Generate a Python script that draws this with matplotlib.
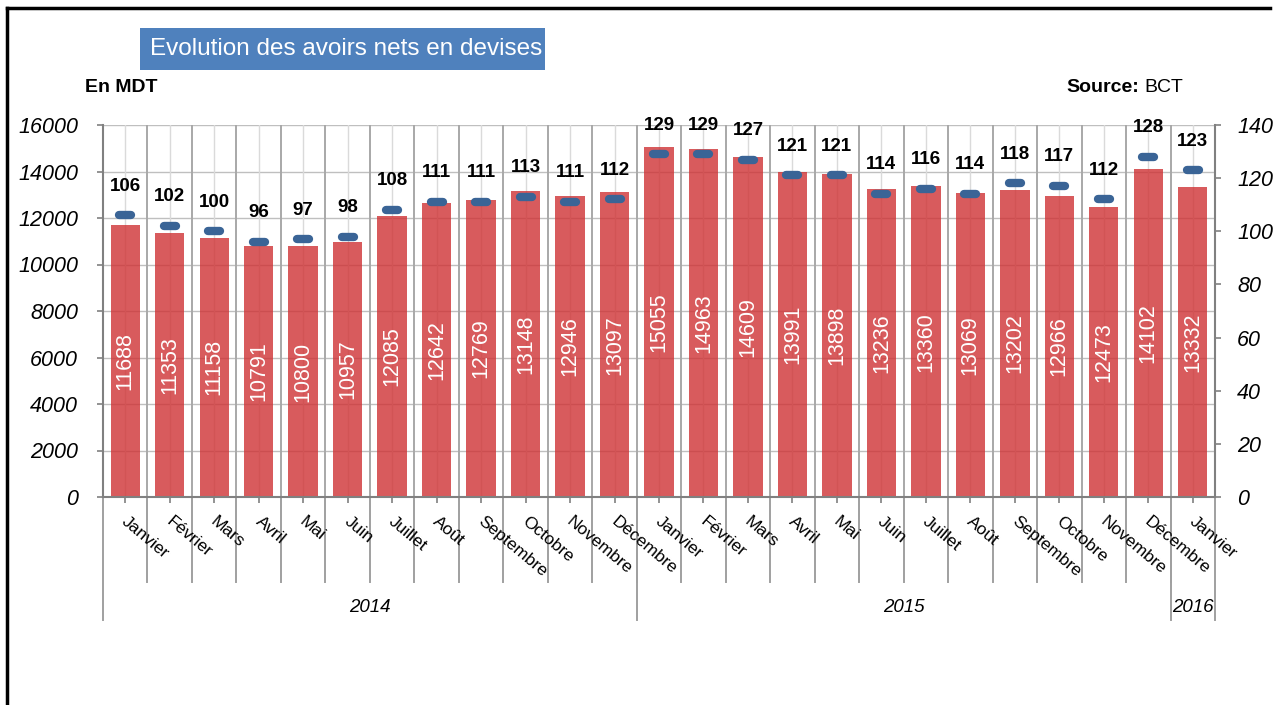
import matplotlib
matplotlib.use("Agg")
import matplotlib.pyplot as plt
from matplotlib.lines import Line2D
from matplotlib.patches import Rectangle
from matplotlib.markers import MarkerStyle

plt.rcParams['font.family'] = ['Liberation Sans', 'DejaVu Sans']

months = ["Janvier", "Février", "Mars", "Avril", "Mai", "Juin", "Juillet", "Août",
          "Septembre", "Octobre", "Novembre", "Décembre",
          "Janvier", "Février", "Mars", "Avril", "Mai", "Juin", "Juillet", "Août",
          "Septembre", "Octobre", "Novembre", "Décembre",
          "Janvier"]
years = ["2014", "2015", "2016"]
year_counts = [12, 12, 1]
avoirs_mdt = [11688, 11353, 11158, 10791, 10800, 10957, 12085, 12642, 12769, 13148, 12946, 13097,
              15055, 14963, 14609, 13991, 13898, 13236, 13360, 13069, 13202, 12966, 12473, 14102,
              13332]
jours_import = [106, 102, 100, 96, 97, 98, 108, 111, 111, 113, 111, 112,
                129, 129, 127, 121, 121, 114, 116, 114, 118, 117, 112, 128,
                123]

W, H = 1274, 705
fig = plt.figure(figsize=(W / 100, H / 100), dpi=100)
ax = fig.add_axes([103 / W, 1 - 497 / H, 1112 / W, 372 / H])
x = list(range(len(months)))

# grid
for k in range(0, 16001, 2000):
    ax.axhline(k, color="#BFBFBF", lw=1, zorder=1)
for i in x:
    ax.axvline(i, color="#DADADA", lw=1, zorder=1)
    ax.axvline(i - 0.5, color="#A8A8A8", lw=1.4, zorder=1)

ax.bar(x, avoirs_mdt, width=0.66, color="#CF3234", alpha=0.8, zorder=2)
for i, v in zip(x, avoirs_mdt):
    ax.text(i, v / 2, str(v), rotation=90, ha="center", va="center",
            color="white", fontsize=15.5, zorder=4)

ax.set_xlim(-0.5, len(months) - 0.5)
ax.set_ylim(0, 16000)
ax.set_yticks(range(0, 16001, 2000))
ax.set_yticklabels([str(t) for t in range(0, 16001, 2000)], fontsize=15.5, style="italic")
ax.set_xticks(x)
ax.set_xticklabels([])
ax.tick_params(axis="both", direction="out", length=4, width=1.2, colors="#808080",
               labelcolor="black")
ax.tick_params(axis="y", pad=14)
for s in ["left", "bottom", "right"]:
    ax.spines[s].set_color("#808080")
    ax.spines[s].set_linewidth(1.5)
ax.spines["top"].set_visible(False)

# month labels
for i, m in zip(x, months):
    ax.text(i + 0.08, -0.045, m, transform=ax.get_xaxis_transform(), rotation=-40,
            rotation_mode="anchor", ha="left", va="top", fontsize=12.5)

# separators under the axis
tr = ax.get_xaxis_transform()
for i in range(1, len(months)):
    ax.plot([i - 0.5, i - 0.5], [0, -0.2285], transform=tr, color="#A0A0A0",
            lw=1.4, clip_on=False)
start = 0
bounds = [-0.5]
for y_lab, n in zip(years, year_counts):
    bounds.append(start + n - 0.5)
    ax.text(start - 0.5 + n / 2, -0.296, y_lab, transform=tr, ha="center", va="center",
            fontsize=13.5, style="italic")
    start += n
for b in bounds:
    ax.plot([b, b], [0, -0.3306], transform=tr, color="#A0A0A0", lw=1.4, clip_on=False)

# right axis
ax2 = ax.twinx()
ax2.set_ylim(0, 140)
ax2.set_yticks(range(0, 141, 20))
ax2.set_yticklabels([str(t) for t in range(0, 141, 20)], fontsize=15.5, style="italic")
ax2.tick_params(axis="y", direction="out", length=4, width=1.2, colors="#808080",
                labelcolor="black", pad=12)
for s in ["left", "bottom", "right", "top"]:
    ax2.spines[s].set_visible(False)
ax2.plot(x, jours_import, ls="none", color="#3A6496",
         marker=MarkerStyle("_", capstyle="round"), ms=8, mew=6, zorder=5)
for i, v in zip(x, jours_import):
    ax2.annotate(str(v), (i, v), xytext=(0, 21), textcoords="offset points",
                 ha="center", va="center", fontsize=13.5, fontweight="bold")

# title and headers
fig.add_artist(Rectangle((140 / W, 1 - 70 / H), 405 / W, 42 / H, transform=fig.transFigure,
                         facecolor="#4F81BD", edgecolor="none"))
fig.text(150 / W, 1 - 49 / H, "Evolution des avoirs nets en devises", color="white",
         fontsize=17.5, ha="left", va="center")
fig.text(85 / W, 1 - 88 / H, "En MDT", fontsize=14, fontweight="bold", ha="left", va="center")
fig.text(1139 / W, 1 - 88 / H, "Source:", fontsize=14, fontweight="bold", ha="right", va="center")
fig.text(1144 / W, 1 - 88 / H, "BCT", fontsize=14, ha="left", va="center")

# frame
fig.add_artist(Line2D([7 / W, 1270 / W], [1 - 8 / H, 1 - 8 / H], transform=fig.transFigure,
                      color="black", lw=2.5))
fig.add_artist(Line2D([7 / W, 7 / W], [1 - 8 / H, 0], transform=fig.transFigure,
                      color="black", lw=2.5))

fig.savefig("out.png", dpi=100)
